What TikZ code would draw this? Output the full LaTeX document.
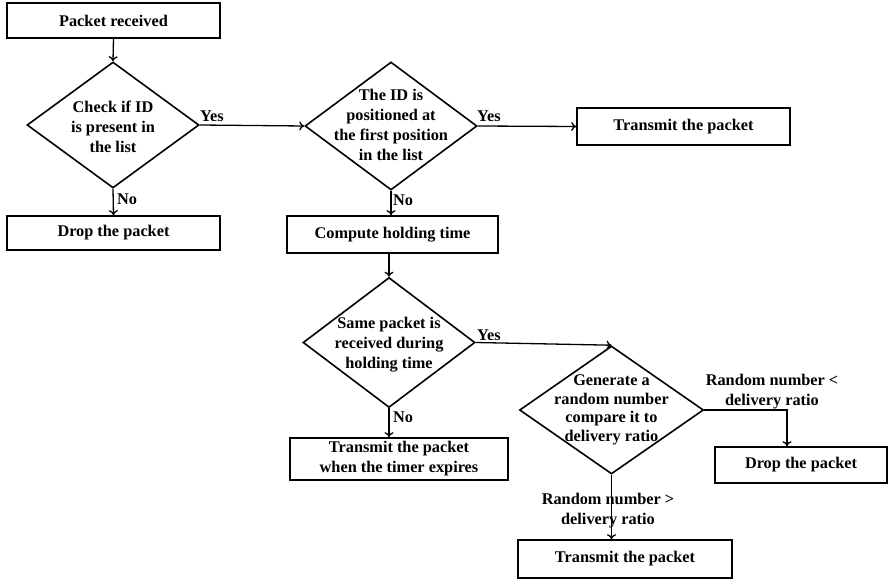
\documentclass[tikz,border=0pt]{standalone}
\usepackage{fontspec}
\setmainfont{Liberation Serif}
\usetikzlibrary{shapes.geometric,arrows.meta}
\begin{document}
\begin{tikzpicture}[x=1pt,y=-1pt,
  every node/.style={font=\fontsize{16.3}{20}\selectfont\bfseries},
  box/.style={draw, line width=1.6pt, inner sep=0pt, align=center},
  dia/.style={draw, diamond, line width=1.6pt, inner sep=0pt},
  txt/.style={align=center, inner sep=0pt},
  arr/.style={line width=1.3pt, -{To[length=5pt,width=9pt]}},
  lbl/.style={inner sep=0pt}]
\useasboundingbox (0,0) rectangle (888,580);

% process boxes
\node[box, minimum width=213pt, minimum height=35pt] (recv) at (113.5,20.5) {Packet received};
\node[box, minimum width=213pt, minimum height=34pt] (drop1) at (113.5,233) {Drop the packet};
\node[box, minimum width=213pt, minimum height=37pt] (tx1) at (683.5,126.5) {Transmit the packet};
\node[box, minimum width=211pt, minimum height=37pt] (hold) at (392.5,234.5) {Compute holding time};
\node[box, minimum width=218pt, minimum height=42pt] (tx2) at (399,459) {Transmit the packet\\when the timer expires};
\node[box, minimum width=172pt, minimum height=36pt] (drop2) at (801,465) {Drop the packet};
\node[box, minimum width=214pt, minimum height=38pt] (tx3) at (625,559) {Transmit the packet};

% decisions
\node[dia, minimum width=172pt, minimum height=126pt] (chk) at (113,125) {};
\node[txt] at (113,127) {Check if ID\\is present in\\the list};
\node[dia, minimum width=172pt, minimum height=128pt] (first) at (391,126) {};
\node[txt] at (391,124.5) {The ID is\\positioned at\\the first position\\in the list};
\node[dia, minimum width=172pt, minimum height=130pt] (same) at (389,342.5) {};
\node[txt] at (389,345) {Same packet is\\received during\\holding time};
\node[dia, minimum width=184pt, minimum height=128pt] (rand) at (611.5,410) {};
\node[txt, font=\fontsize{16.3}{18.5}\selectfont\bfseries] at (611.5,410) {Generate a\\random number\\compare it to\\delivery ratio};

% connectors
\draw[arr] (recv.south) -- (chk.north);
\draw[arr] (chk.east) -- (first.west);
\node[lbl] (y1) at (212,116) {Yes};
\draw[arr] (chk.south) -- (drop1.north);
\node[lbl] (n1) at (127,199) {No};
\draw[arr] (first.east) -- (tx1.west);
\node[lbl] (y2) at (489,116) {Yes};
\draw[arr] (first.south) -- (first.south |- hold.north);
\node[lbl] (n2) at (403,200) {No};
\draw[arr] (hold.south -| same.north) -- (same.north);
\draw[arr] (same.east) -- (rand.north);
\node[lbl] (y3) at (489,335) {Yes};
\draw[arr] (same.south) -- (same.south |- tx2.north);
\node[lbl] (n3) at (403,417) {No};
\coordinate (turn) at (787,410);
\draw[arr] (rand.east) -- (turn) -- (turn |- drop2.north);
\node[lbl, align=center] (lt) at (772,392) {Random number <\\delivery ratio};
\draw[arr] (rand.south) -- (rand.south |- tx3.north);
\node[lbl, align=center] (gt) at (608,511) {Random number >\\delivery ratio};
\end{tikzpicture}
\end{document}
